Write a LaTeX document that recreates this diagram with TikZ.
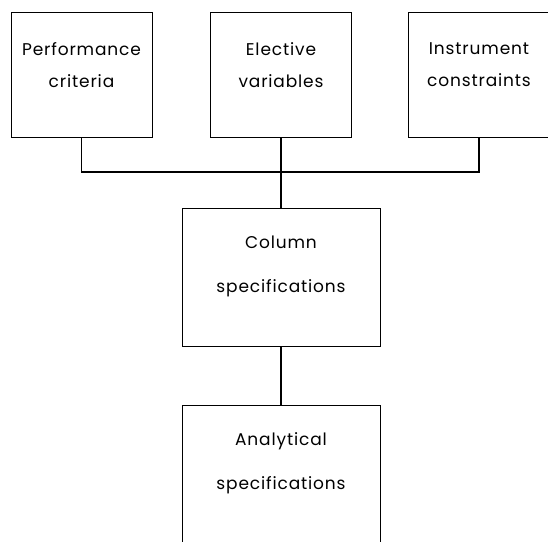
\documentclass[tikz,border=0pt]{standalone}
\usepackage{fontspec}
\setmainfont{Poppins}[LetterSpace=5]
\begin{document}
\begin{tikzpicture}[x=1pt,y=-1pt,
  block/.style={draw=black, line width=1pt, align=center, inner sep=0pt},
  topblock/.style={block, minimum width=141pt, minimum height=125pt,
    font=\fontsize{17}{32}\selectfont, text depth=19.5pt},
  lowblock/.style={block, minimum width=198pt, minimum height=138pt,
    font=\fontsize{17}{44}\selectfont, text depth=26.5pt},
  link/.style={line width=1.1pt}]
\clip (0,0) rectangle (548,541);
% the three inputs
\node [topblock] (perf) at (81.5,74.5) {Performance\\criteria};
\node [topblock] (elect) at (281,74.5) {Elective\\variables};
\node [topblock] (instr) at (479,74.5) {Instrument\\constraints};
% what follows from them
\node [lowblock] (column) at (281,277) {Column\\specifications};
\node [lowblock] (anal) at (281,474) {Analytical\\specifications};
\coordinate (bus) at (281,172);
\draw [link] (perf.south) |- (bus) -| (instr.south);
\draw [link] (elect.south) -- (column.north);
\draw [link] (column.south) -- (anal.north);
\end{tikzpicture}
\end{document}
